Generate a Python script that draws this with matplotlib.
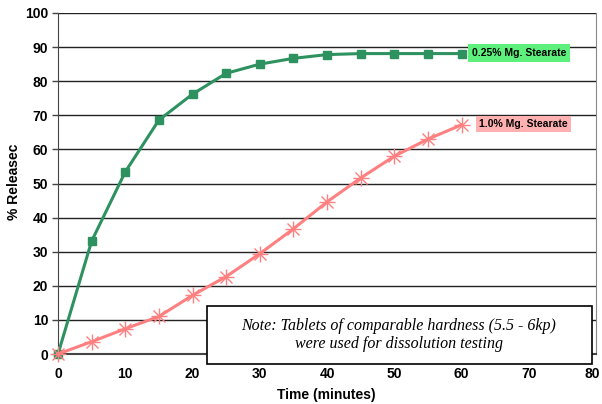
import matplotlib
matplotlib.use("Agg")
import matplotlib.pyplot as plt
from matplotlib.patches import Rectangle
from matplotlib.transforms import ScaledTranslation

time_min = [0, 5, 10, 15, 20, 25, 30, 35, 40, 45, 50, 55, 60]
release_025 = [0, 33.1, 53.4, 68.6, 76.2, 82.3, 85.0, 86.7, 87.8, 88.1, 88.1, 88.1, 88.1]
release_10 = [0, 3.6, 7.4, 11.0, 17.2, 22.7, 29.4, 36.7, 44.6, 51.6, 58.0, 63.0, 67.2]
label_025 = "0.25% Mg. Stearate"
label_10 = "1.0% Mg. Stearate"
x_ticks = [0, 10, 20, 30, 40, 50, 60, 70, 80]
y_ticks = [0, 10, 20, 30, 40, 50, 60, 70, 80, 90, 100]
note = "Note: Tablets of comparable hardness (5.5 - 6kp)\nwere used for dissolution testing"

plt.rcParams['font.family'] = ['Liberation Sans', 'DejaVu Sans']

fig = plt.figure(figsize=(6.02, 4.04), dpi=100)
W, H = 602, 404
ax = fig.add_axes([58 / W, 1 - 354 / H, (596 - 58) / W, (354 - 13) / H])

green = "#2e9160"
red = "#ff8080"

ax.plot(time_min, release_025, color=green, lw=2.2, marker="s", ms=6,
        mfc=green, mec=green, zorder=3, clip_on=False)
ax.plot(time_min, release_10, color=red, lw=2.2, marker="x", ms=9,
        mew=1.0, zorder=3, clip_on=False)
ax.plot(time_min, release_10, color=red, lw=0, marker="+", ms=11,
        mew=1.0, zorder=3, clip_on=False)

ax.set_xlim(0, 80)
ax.set_ylim(0, 100)
ax.set_xticks(x_ticks)
ax.set_yticks(y_ticks)
ax.yaxis.grid(True, color="#222222", lw=1.0)
ax.set_axisbelow(True)

for lab in ax.get_xticklabels() + ax.get_yticklabels():
    lab.set_fontweight("bold")
    lab.set_fontsize(10)
ax.tick_params(axis="y", length=4, width=1, color="#444444", direction="out", pad=3)
ax.tick_params(axis="x", length=0, pad=9)

# keep the last x tick label inside the canvas
last = ax.get_xticklabels()[-1]
last.set_transform(last.get_transform() + ScaledTranslation(-4 / 100, 0, fig.dpi_scale_trans))

ax.spines["top"].set_visible(False)
ax.spines["right"].set_color("#888888")
ax.spines["left"].set_color("#444444")
ax.spines["bottom"].set_color("#444444")
ax.spines["bottom"].set_linewidth(1.5)

fig.text(326 / W, 1 - 395 / H, "Time (minutes)", fontweight="bold", fontsize=10,
         ha="center", va="center")
fig.text(14 / W, 1 - 182 / H, "% Releasec", rotation=90, fontweight="bold",
         fontsize=10, ha="center", va="center")

fig.text(472 / W, 1 - 53 / H, label_025, fontsize=7.5, fontweight="bold",
         ha="left", va="center",
         bbox=dict(boxstyle="square,pad=0.35", fc="#5ef07c", ec="none"))
fig.text(479 / W, 1 - 124 / H, label_10, fontsize=7.5, fontweight="bold",
         ha="left", va="center",
         bbox=dict(boxstyle="square,pad=0.3", fc="#ffb0b0", ec="none"))

fig.patches.append(Rectangle((207 / W, 1 - 364 / H), (592 - 207) / W, (364 - 306) / H,
                             transform=fig.transFigure, fc="white", ec="black",
                             lw=1.2, zorder=10))
fig.text(399 / W, 1 - 335 / H, note, fontsize=11.5, style="italic",
         family=["Liberation Serif", "DejaVu Serif"], ha="center", va="center",
         linespacing=1.1, zorder=11)

fig.savefig("out.png", dpi=100)
